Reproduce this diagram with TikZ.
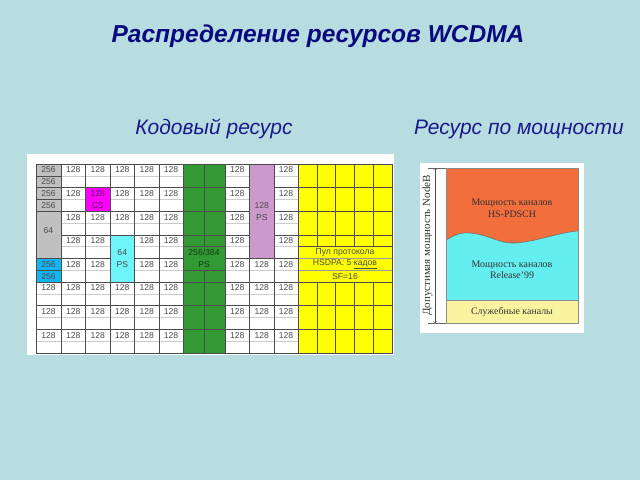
\documentclass[tikz,border=0pt]{standalone}
\usepackage{fontspec}
\setmainfont{Liberation Serif}
\setsansfont{Liberation Sans}

\definecolor{bgblue}{RGB}{184,221,225}
\definecolor{titleblue}{RGB}{10,10,128}
\definecolor{subblue}{RGB}{25,25,140}
\definecolor{codegray}{RGB}{192,192,192}
\definecolor{codegreen}{RGB}{51,153,51}
\definecolor{codemag}{RGB}{255,0,255}
\definecolor{codelilac}{RGB}{204,153,204}
\definecolor{codecyan}{RGB}{20,180,240}
\definecolor{codeaqua}{RGB}{110,245,250}
\definecolor{codeyellow}{RGB}{255,255,0}
\definecolor{hsorange}{RGB}{242,110,60}
\definecolor{relcyan}{RGB}{100,238,240}
\definecolor{svcyellow}{RGB}{250,244,160}

\begin{document}
\begin{tikzpicture}[x=1pt, y=-1pt,
  cellline/.style={draw=black!70, line width=0.5pt},
  midline/.style={draw=black!20, line width=0.4pt},
  celltxt/.style={font=\sffamily\fontsize{8.6}{9}\selectfont, text=black!70, inner sep=0pt},
  powertxt/.style={font=\fontsize{9.9}{11.5}\selectfont, text=black!80, align=center}]
		\fill[bgblue] (0, 0) rectangle (640, 480);
		\node[anchor=base, text=titleblue, font=\sffamily\bfseries\itshape\fontsize{24.5}{26}\selectfont] (title) at (318, 42.7) {Распределение ресурсов WCDMA};
		\node[anchor=base, text=subblue, font=\sffamily\itshape\fontsize{21}{24}\selectfont] (codetitle) at (214, 134) {Кодовый ресурс};
		\node[anchor=base, text=subblue, font=\sffamily\itshape\fontsize{21}{24}\selectfont] (powertitle) at (519, 134) {Ресурс по мощности};
		
		% code table
		\fill[white] (27, 154) rectangle (394, 355);
		\begin{scope}[shift={(36, 164)}, y=-11.8pt]
		\foreach \xa/\xb/\rows [count=\k] in {0/25/{10,12,14}, 25/49.5/{0,2,...,14}, 49.5/74/{0,4,6,...,14}, 74/98.5/{0,2,4,10,12,14}, 98.5/123/{0,2,...,14}, 123/147/{0,2,...,14}, 189/213.5/{0,2,...,14}, 213.5/238/{8,10,12,14}, 238/262/{0,2,...,14}}
			\foreach \r in \rows {
				\draw[midline] (\xa, {\r+1}) -- (\xb, {\r+1});
				\draw[cellline] (\xa, \r) rectangle (\xb, {\r+2});
				\node[celltxt] (w\k-\r) at ({(\xa+\xb)/2}, {\r+0.5}) {128};
			}
		
		\foreach \r in {0, ..., 3} {
			\draw[cellline, fill=codegray] (0, \r) rectangle (25, {\r+1});
			\node[celltxt] (g\r) at (12.5, {\r+0.5}) {256};
		}
		\draw[cellline, fill=codegray] (0, 4) rectangle (25, 8);
		\node[celltxt] (g64) at (12.5, 5.6) {64};
		\foreach \r in {8, 9} {
			\draw[cellline, fill=codecyan] (0, \r) rectangle (25, {\r+1});
			\node[celltxt] (c\r) at (12.5, {\r+0.5}) {256};
		}
		
		\draw[cellline, fill=codemag] (49.5, 2) rectangle (74, 4);
		\node[celltxt, text=violet!70!black] (cs1) at (61.75, 2.5) {128};
		\node[celltxt, text=violet!70!black] (cs2) at (61.75, 3.5) {CS};
		
		\draw[cellline, fill=codeaqua] (74, 6) rectangle (98.5, 10);
		\node[celltxt] (aq1) at (86.25, 7.5) {64};
		\node[celltxt] (aq2) at (86.25, 8.5) {PS};
		
		\fill[codegreen] (147, 0) rectangle (189, 16);
		\foreach \xa/\xb in {147/168, 168/189}
			\foreach \r/\h in {0/2, 2/2, 4/2, 6/1, 9/1, 10/2, 12/2, 14/2}
				\draw[cellline] (\xa, \r) rectangle (\xb, {\r+\h});
		\draw[cellline] (147, 7) rectangle (189, 9);
		\node[celltxt, text=black!60!codegreen] (gr1) at (168, 7.5) {256/384};
		\node[celltxt, text=black!60!codegreen] (gr2) at (168, 8.5) {PS};
		
		\draw[cellline, fill=codelilac] (213.5, 0) rectangle (238, 8);
		\node[celltxt] (li1) at (225.75, 3.5) {128};
		\node[celltxt] (li2) at (225.75, 4.5) {PS};
		
		\fill[codeyellow] (262, 0) rectangle (356, 16);
		\foreach \xa/\xb in {262/280.8, 280.8/299.6, 299.6/318.4, 318.4/337.2, 337.2/356}
			\foreach \r/\h in {0/2, 2/2, 4/2, 6/1, 10/2, 12/2, 14/2}
				\draw[cellline] (\xa, \r) rectangle (\xb, {\r+\h});
		\draw[midline, draw=black!40] (262, 8) -- (356, 8) (262, 9) -- (356, 9);
		\draw[cellline] (262, 7) rectangle (356, 10);
		\node[celltxt] (pool1) at (309, 7.5) {Пул протокола};
		\node[celltxt] (pool2) at (309, 8.5) {HSDPA: 5 \underline{кадов}};
		\node[celltxt] (pool3) at (309, 9.5) {SF=16};
		\end{scope}
		
		% power resource
		\fill[white] (420, 163) rectangle (584, 333);
		\fill[relcyan] (446, 168) rectangle (578, 300);
		\fill[hsorange] (446, 168) -- (578, 168) -- (578, 231)
			.. controls (560, 232) and (535, 242) .. (515, 243)
			.. controls (500, 244) and (490, 235) .. (470, 233)
			.. controls (460, 232) and (455, 235) .. (446, 240) -- cycle;
		\draw[black!55, semithick] (578, 231)
			.. controls (560, 232) and (535, 242) .. (515, 243)
			.. controls (500, 244) and (490, 235) .. (470, 233)
			.. controls (460, 232) and (455, 235) .. (446, 240);
		\fill[svcyellow] (446, 300) rectangle (578, 323);
		\draw[black!45] (446, 168) rectangle (578, 323);
		\draw[black!45] (446, 300) -- (578, 300);
		
		\coordinate (ptop) at (435, 168);
		\coordinate (pbot) at (435, 323);
		\draw[black!60] (428, 168) -- (446, 168) (428, 323) -- (446, 323);
		\draw[black!70, <->] (ptop) -- (pbot);
		\node[powertxt, rotate=90, font=\fontsize{11}{12}\selectfont] (nodeb) at (427.5, 245.5) {Допустимая мощность NodeB};
		
		\node[powertxt] (hs) at (512, 208.5) {Мощность каналов\\HS-PDSCH};
		\node[powertxt] (r99) at (512, 270) {Мощность каналов\\Release'99};
		\node[powertxt] (svc) at (512, 312) {Служебные каналы};
\end{tikzpicture}
\end{document}
